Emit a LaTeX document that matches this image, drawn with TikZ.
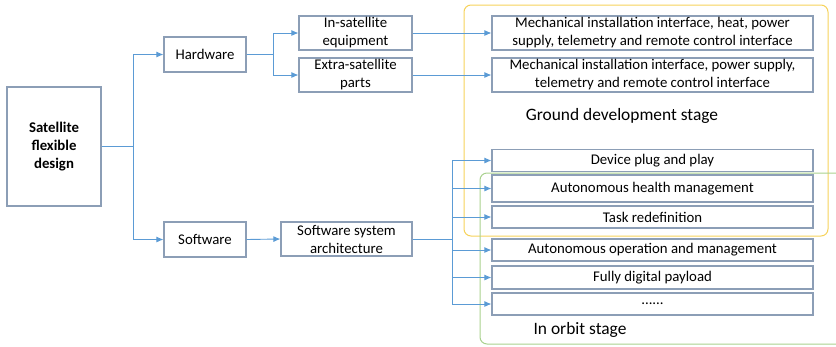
\documentclass[tikz,border=0pt]{standalone}
\usepackage{fontspec}
\setmainfont{Carlito}
\usetikzlibrary{arrows.meta}
\definecolor{boxline}{RGB}{140,158,182}
\definecolor{arrline}{RGB}{91,155,213}
\definecolor{groundline}{RGB}{246,210,90}
\definecolor{orbitline}{RGB}{169,209,142}
\begin{document}
\begin{tikzpicture}[x=1pt,y=-1pt,
  box/.style={draw=boxline,line width=1.1pt,align=center,inner sep=1pt,font=\fontsize{14.8}{18}\selectfont},
  conn/.style={draw=arrline,line width=0.9pt},
  arr/.style={conn,-{Latex[length=7pt,width=6pt]}},
  stage/.style={font=\fontsize{17.4}{20}\selectfont}]
\useasboundingbox (0,0) rectangle (836,346);
\draw[groundline,line width=1pt,rounded corners=7pt] (464,5) rectangle (828,236);
\draw[orbitline,line width=1pt,rounded corners=7pt] (836,173) -- (480,173) -- (480,344) -- (836,344);
\node[box,minimum width=94pt,minimum height=119pt,font=\fontsize{14.8}{18}\selectfont\bfseries] (sfd) at (54,146.5) {Satellite\\flexible\\design};
\node[box,minimum width=82pt,minimum height=35pt] (hw) at (205,54.5) {Hardware};
\node[box,minimum width=82pt,minimum height=35pt] (sw) at (205,239.5) {Software};
\node[box,minimum width=113pt,minimum height=34pt] (ise) at (355.5,33) {In-satellite\\equipment};
\node[box,minimum width=113pt,minimum height=34pt] (esp) at (355.5,75) {Extra-satellite\\parts};
\node[box,minimum width=131pt,minimum height=34pt] (ssa) at (346.5,239) {Software system\\architecture};
\node[box,minimum width=321pt,minimum height=34pt] (hwa) at (652.5,33) {Mechanical installation interface, heat, power\\supply, telemetry and remote control interface};
\node[box,minimum width=321pt,minimum height=34pt] (hwb) at (652.5,75) {Mechanical installation interface, power supply,\\telemetry and remote control interface};
\node[box,minimum width=321pt,minimum height=22pt] (dpp) at (652.5,160.5) {Device plug and play};
\node[box,minimum width=321pt,minimum height=27pt] (ahm) at (652.5,188.5) {Autonomous health management};
\node[box,minimum width=321pt,minimum height=22pt] (tr) at (652.5,217) {Task redefinition};
\node[box,minimum width=321pt,minimum height=22pt] (aom) at (652.5,250) {Autonomous operation and management};
\node[box,minimum width=321pt,minimum height=23pt] (fdp) at (652.5,277.5) {Fully digital payload};
\node[box,minimum width=321pt,minimum height=22pt] (etc) at (652.5,304) {......};
\node[stage] (gds) at (622,116) {Ground development stage};
\node[stage] (ios) at (580,330) {In orbit stage};
\draw[conn] (sfd.east) -- (133,146.5) coordinate (fa);
\draw[arr] (fa) |- (hw.west);
\draw[arr] (fa) |- (sw.west);
\draw[conn] (hw.east) -- (273,54.5) coordinate (fb);
\draw[arr] (fb) |- (ise.west);
\draw[arr] (fb) |- (esp.west);
\draw[arr] (ise.east) -- (hwa.west);
\draw[arr] (esp.east) -- (hwb.west);
\draw[arr] (sw.east) -- (ssa.west);
\draw[conn] (ssa.east) -- (452,239) coordinate (fc);
\foreach \n in {dpp,ahm,tr,aom,fdp,etc}
{
\draw[arr] (fc) |- (\n.west);
}
\end{tikzpicture}
\end{document}
